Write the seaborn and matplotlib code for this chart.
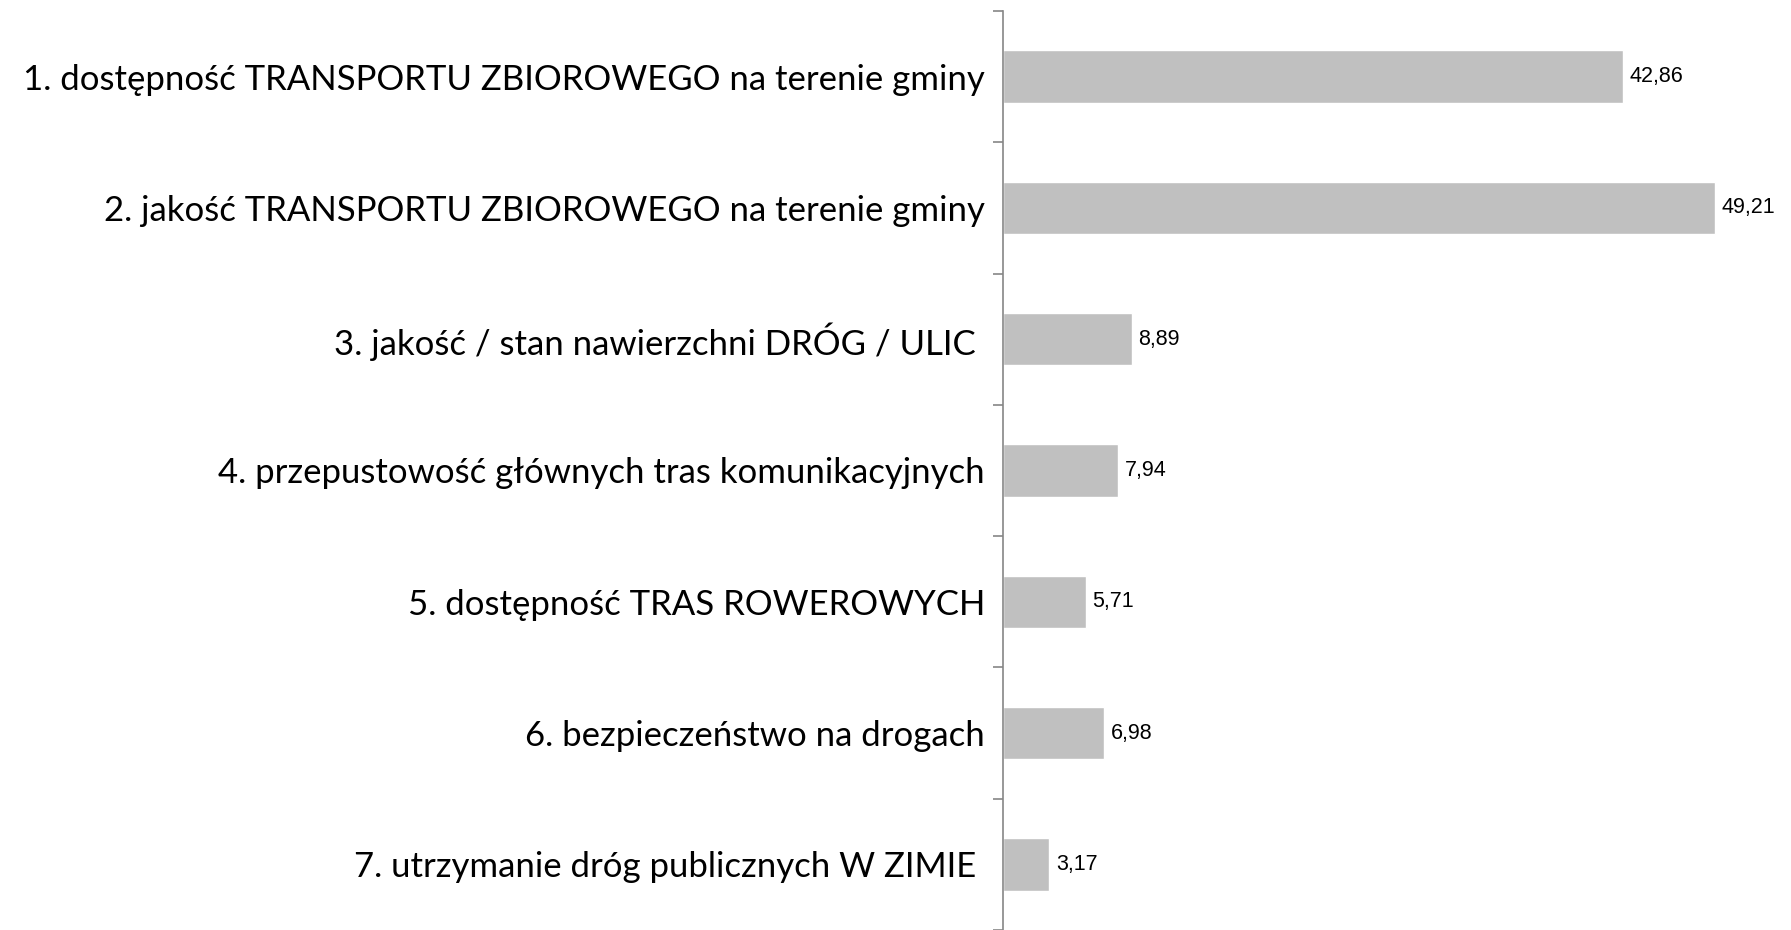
import numpy as np
import pandas as pd
import matplotlib
matplotlib.use("Agg")
import matplotlib.pyplot as plt
import seaborn as sns
from matplotlib.ticker import FixedLocator

categories = [
    "1. dostępność TRANSPORTU ZBIOROWEGO na terenie gminy",
    "2. jakość TRANSPORTU ZBIOROWEGO na terenie gminy",
    "3. jakość / stan nawierzchni DRÓG / ULIC ",
    "4. przepustowość głównych tras komunikacyjnych",
    "5. dostępność TRAS ROWEROWYCH",
    "6. bezpieczeństwo na drogach",
    "7. utrzymanie dróg publicznych W ZIMIE ",
]
values = [42.86, 49.21, 8.89, 7.94, 5.71, 6.98, 3.17]
value_labels = ["42,86", "49,21", "8,89", "7,94", "5,71", "6,98", "3,17"]

sns.set_theme(style="white")
plt.rcParams["font.family"] = ["Lato", "DejaVu Sans"]

df = pd.DataFrame({"kategoria": categories, "wartosc": values})

fig = plt.figure(figsize=(17.91, 9.30), dpi=100)
ax = fig.add_axes([0.56, 0.0, 0.44, 0.9882])

sns.barplot(data=df, y="kategoria", x="wartosc", orient="h",
            color="#C0C0C0", width=0.4, saturation=1, ax=ax)

ax.set_xlim(0, 54.5)
ax.set_ylim(len(categories) - 0.5, -0.5)
ax.set_xlabel("")
ax.set_ylabel("")
ax.set_xticks([])

for s in ["top", "right", "bottom"]:
    ax.spines[s].set_visible(False)
ax.spines["left"].set_color("#868686")
ax.spines["left"].set_linewidth(1.2)

# category labels without tick marks, tick marks at category boundaries
ax.tick_params(axis="y", which="major", length=0, pad=13, labelsize=25,
               labelcolor="black")
ax.yaxis.set_minor_locator(FixedLocator(np.arange(-0.5, len(categories), 1.0)))
ax.tick_params(axis="y", which="minor", left=True, length=7.5, width=1.2,
               color="#868686", direction="out")

for i, (v, lab) in enumerate(zip(values, value_labels)):
    ax.annotate(lab, xy=(v, i), xytext=(5, 0), textcoords="offset points",
                ha="left", va="center", fontsize=15.5,
                family=["Liberation Sans", "DejaVu Sans"], color="black")

fig.savefig("out.png", dpi=100)
